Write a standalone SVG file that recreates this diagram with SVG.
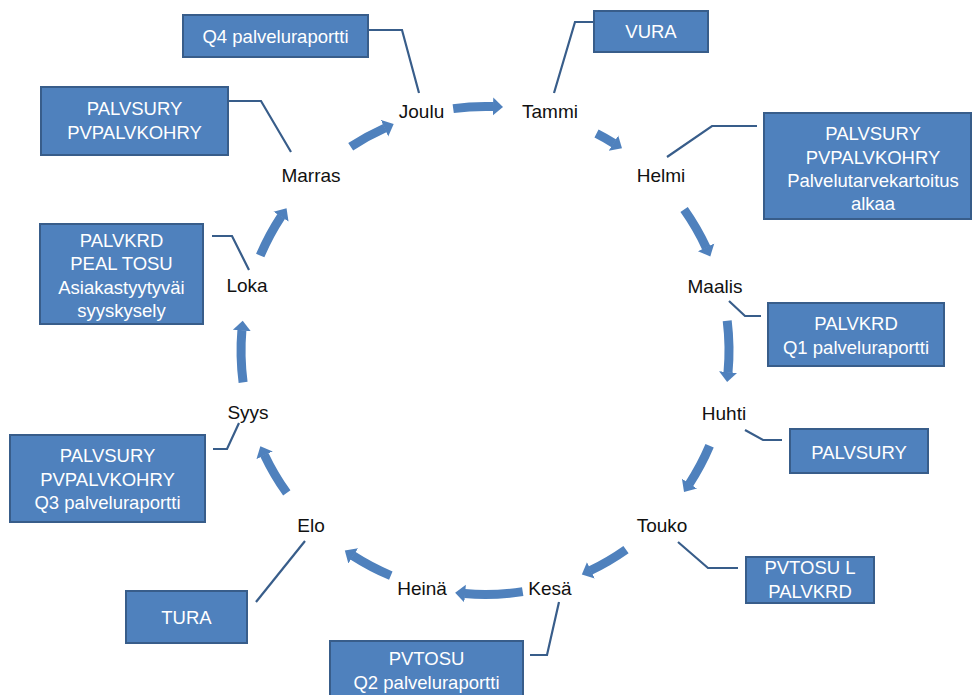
<svg xmlns="http://www.w3.org/2000/svg" width="976" height="695" viewBox="0 0 976 695">
<style>
.m{font-family:"Liberation Sans",Arial,sans-serif;font-size:19px;fill:#111;text-anchor:middle}
.bx{fill:#4F81BD;stroke:#385D8A;stroke-width:2}
.bt{font-family:"Liberation Sans",Arial,sans-serif;font-size:18.5px;fill:#fff;text-anchor:middle}
.co{fill:none;stroke:#385D8A;stroke-width:2.2}
.ar{fill:none;stroke:#4F81BD;stroke-width:9;marker-end:url(#ah)}
</style>
<defs>
<marker id="ah" markerUnits="userSpaceOnUse" markerWidth="12" markerHeight="22" refX="0.5" refY="10" orient="auto" viewBox="0 0 12 22">
<path d="M0,1 L10,10 L0,19 z" fill="#4F81BD"/>
</marker>
</defs>
<rect width="976" height="695" fill="#fff"/>
<g id="connectors">
<path class="ar" d="M453.2,108.6 A244,244 0 0 1 493.5,106.6"/>
<path class="ar" d="M596.5,133.5 A244,244 0 0 1 613.9,143.3"/>
<path class="ar" d="M684.1,209.5 A244,244 0 0 1 706.3,247.8"/>
<path class="ar" d="M727.2,320.8 A244,244 0 0 1 728.0,372.6"/>
<path class="ar" d="M709.6,445.8 A244,244 0 0 1 689.2,484.1"/>
<path class="ar" d="M626.0,549.6 A244,244 0 0 1 590.4,570.5"/>
<path class="ar" d="M522.7,591.6 A244,244 0 0 1 464.6,593.6"/>
<path class="ar" d="M390.8,575.6 A244,244 0 0 1 352.8,555.6"/>
<path class="ar" d="M286.8,492.9 A244,244 0 0 1 264.4,454.8"/>
<path class="ar" d="M243.1,382.3 A244,244 0 0 1 241.9,330.1"/>
<path class="ar" d="M260.2,255.6 A244,244 0 0 1 281.3,216.2"/>
<path class="ar" d="M350.7,146.8 A244,244 0 0 1 385.0,128.0"/>
<polyline class="co" points="368,30 402,30 419,93"/>
<polyline class="co" points="594,22 575,22 554,93"/>
<polyline class="co" points="228,101 261,101 291,152"/>
<polyline class="co" points="757,126 712,126 667,157"/>
<polyline class="co" points="729,301 745,316 761,316"/>
<polyline class="co" points="745,430 763,440 782,440"/>
<polyline class="co" points="678,542 708,568 738,568"/>
<polyline class="co" points="559,602 547,655 530,655"/>
<polyline class="co" points="256,602 305,541"/>
<polyline class="co" points="213,449 227,449 239,423"/>
<polyline class="co" points="212,236 232,236 249,270"/>
</g>
<g id="months">
<text id="joulu" class="m" x="421.5" y="118">Joulu</text>
<text id="tammi" class="m" x="550" y="118">Tammi</text>
<text id="helmi" class="m" x="661" y="182">Helmi</text>
<text id="maalis" class="m" x="715" y="293">Maalis</text>
<text id="huhti" class="m" x="724" y="420">Huhti</text>
<text id="touko" class="m" x="662" y="532">Touko</text>
<text id="kesa" class="m" x="550" y="595">Kesä</text>
<text id="heina" class="m" x="422" y="595">Heinä</text>
<text id="elo" class="m" x="311" y="532">Elo</text>
<text id="syys" class="m" x="248" y="419">Syys</text>
<text id="loka" class="m" x="247" y="292">Loka</text>
<text id="marras" class="m" x="311" y="182">Marras</text>
</g>
<g id="box-q4">
<rect class="bx" x="183" y="15" width="185" height="42"/>
<text class="bt" x="275.5" y="43">Q4 palveluraportti</text>
</g>
<g id="box-vura">
<rect class="bx" x="594" y="11" width="114" height="41"/>
<text class="bt" x="651" y="38">VURA</text>
</g>
<g id="box-marras">
<rect class="bx" x="41" y="87" width="187" height="68"/>
<text class="bt" x="134.5" y="114.5">PALVSURY</text>
<text class="bt" x="134.5" y="139">PVPALVKOHRY</text>
</g>
<g id="box-helmi">
<rect class="bx" x="764" y="113" width="207" height="106"/>
<text class="bt" x="873" y="140">PALVSURY</text>
<text class="bt" x="873" y="164">PVPALVKOHRY</text>
<text class="bt" x="873" y="187">Palvelutarvekartoitus</text>
<text class="bt" x="873" y="210">alkaa</text>
</g>
<g id="box-maalis">
<rect class="bx" x="768" y="303" width="176" height="63"/>
<text class="bt" x="856" y="329.5">PALVKRD</text>
<text class="bt" x="856" y="353.5">Q1 palveluraportti</text>
</g>
<g id="box-huhti">
<rect class="bx" x="790" y="429" width="138" height="44"/>
<text class="bt" x="859" y="458.5">PALVSURY</text>
</g>
<g id="box-touko">
<rect class="bx" x="746" y="557" width="128" height="46"/>
<text class="bt" x="810" y="573.5">PVTOSU L</text>
<text class="bt" x="810" y="597.5">PALVKRD</text>
</g>
<g id="box-kesa">
<rect class="bx" x="330" y="641" width="193" height="62"/>
<text class="bt" x="426.5" y="665">PVTOSU</text>
<text class="bt" x="426.5" y="688.5">Q2 palveluraportti</text>
</g>
<g id="box-elo">
<rect class="bx" x="126" y="591" width="121" height="52"/>
<text class="bt" x="186.5" y="623.5">TURA</text>
</g>
<g id="box-syys">
<rect class="bx" x="10" y="435" width="195" height="87"/>
<text class="bt" x="107.5" y="462">PALVSURY</text>
<text class="bt" x="107.5" y="485.5">PVPALVKOHRY</text>
<text class="bt" x="107.5" y="509">Q3 palveluraportti</text>
</g>
<g id="box-loka">
<rect class="bx" x="40" y="224" width="163" height="100"/>
<text class="bt" x="121.5" y="246.5">PALVKRD</text>
<text class="bt" x="121.5" y="270">PEAL TOSU</text>
<text class="bt" x="121.5" y="293.5">Asiakastyytyväi</text>
<text class="bt" x="121.5" y="317">syyskysely</text>
</g>
</svg>
